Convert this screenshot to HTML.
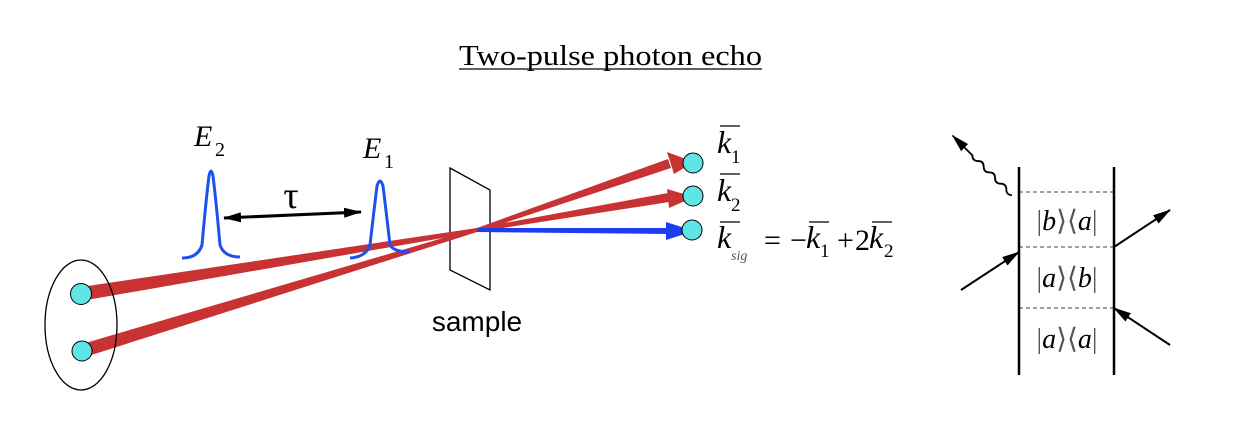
<!DOCTYPE html>
<html><head><meta charset="utf-8"><style>
html,body{margin:0;padding:0;background:#fff;}
svg{display:block;}
.s{font-family:"Liberation Serif",serif;}
.i{font-family:"Liberation Serif",serif;font-style:italic;}
</style></head><body>
<svg width="1238" height="424" viewBox="0 0 1238 424" xmlns="http://www.w3.org/2000/svg">
<defs>
<marker id="ah2" markerWidth="18" markerHeight="10" refX="17" refY="5" orient="auto-start-reverse" markerUnits="userSpaceOnUse"><path d="M0,0 L18,5 L0,10 Z" fill="#000"/></marker>
</defs>
<text x="459" y="65" textLength="303" lengthAdjust="spacingAndGlyphs" class="s" font-size="29">Two-pulse photon echo</text>
<line x1="459" y1="69" x2="762" y2="69" stroke="#000" stroke-width="1.3"/>

<!-- sample plane -->
<polygon points="450,168 490,190 490,290 450,270" fill="none" stroke="#000" stroke-width="1.3"/>
<!-- beams -->
<polygon points="81,287 81,301 477,232 477,228" fill="#c83232"/>
<polygon points="82,344 82,358 477,232 477,228" fill="#c83232"/>
<polygon points="477,228 668,159 671,168 477,232" fill="#c83232"/>
<polygon points="667,152 694,162 674,174" fill="#c83232"/>
<polygon points="477,228 668,193 669,202 477,232" fill="#c83232"/>
<polygon points="667,189 694,197 669,208" fill="#c83232"/>
<polygon points="477,228 668,228 668,234 477,232" fill="#1e3cf0"/>
<polygon points="666,222 694,231 666,240" fill="#1e3cf0"/>
<!-- sources -->
<ellipse cx="81" cy="325" rx="36" ry="65" fill="none" stroke="#000" stroke-width="1.3"/>
<circle cx="81" cy="294" r="10.5" fill="#5ee6e6" stroke="#000" stroke-width="1"/>
<circle cx="82" cy="351" r="10" fill="#5ee6e6" stroke="#000" stroke-width="1"/>
<circle cx="693" cy="163" r="10" fill="#5ee6e6" stroke="#000" stroke-width="1"/>
<circle cx="693" cy="196" r="10" fill="#5ee6e6" stroke="#000" stroke-width="1"/>
<circle cx="692" cy="230" r="10" fill="#5ee6e6" stroke="#000" stroke-width="1"/>
<!-- pulses -->
<path d="M182,258 Q198,258 202,245 Q206,200 209,176 Q211,166 213,176 Q216,200 220,245 Q224,257 240,257" fill="none" stroke="#1e50f0" stroke-width="3"/>
<path d="M350,258 Q366,257 370,245 Q374,210 377,186 Q380,176 383,186 Q386,210 390,245 Q394,252 410,252" fill="none" stroke="#1e50f0" stroke-width="3"/>
<!-- tau arrow -->
<line x1="224" y1="218" x2="361" y2="212" stroke="#000" stroke-width="3" marker-start="url(#ah2)" marker-end="url(#ah2)"/>
<text x="291" y="208" text-anchor="middle" class="s" font-size="38">τ</text>
<text x="194" y="146" class="i" font-size="30">E</text><text x="215" y="156" class="s" font-size="20">2</text>
<text x="363" y="158" class="i" font-size="30">E</text><text x="384" y="168" class="s" font-size="20">1</text>
<text x="477" y="331" text-anchor="middle" font-family="Liberation Sans,sans-serif" font-size="28">sample</text>
<!-- k labels -->
<g class="s" stroke-width="1.3">
<text x="717" y="153" class="i" font-size="32">k</text><text x="731" y="163" font-size="19">1</text><line x1="720" y1="126" x2="740" y2="126" stroke="#000"/>
<text x="717" y="201" class="i" font-size="32">k</text><text x="731" y="211" font-size="19">2</text><line x1="720" y1="174" x2="740" y2="174" stroke="#000"/>
<text x="717" y="248" class="i" font-size="32">k</text><text x="731" y="260" class="i" font-size="14" fill="#555">sig</text><line x1="720" y1="222" x2="740" y2="222" stroke="#000"/>
<text x="764" y="250" font-size="30">=</text>
<text x="790" y="250" font-size="30">−</text>
<text x="806" y="248" class="i" font-size="32">k</text><text x="820" y="257" font-size="19">1</text><line x1="809" y1="222" x2="829" y2="222" stroke="#000"/>
<text x="837" y="250" font-size="30">+</text>
<text x="855" y="250" font-size="30">2</text>
<text x="869" y="248" class="i" font-size="32">k</text><text x="884" y="257" font-size="19">2</text><line x1="872" y1="222" x2="892" y2="222" stroke="#000"/>
</g>
<!-- double-sided diagram -->
<line x1="1019" y1="167" x2="1019" y2="375" stroke="#000" stroke-width="2.5"/>
<line x1="1114" y1="167" x2="1114" y2="375" stroke="#000" stroke-width="2.5"/>
<g stroke="#000" stroke-width="0.8" stroke-dasharray="4,3">
<line x1="1019" y1="192" x2="1114" y2="192"/>
<line x1="1019" y1="247" x2="1114" y2="247"/>
<line x1="1019" y1="308" x2="1114" y2="308"/>
</g>
<g class="s" font-size="28" text-anchor="middle">
<text x="1067" y="230"><tspan fill="#555">|</tspan><tspan font-style="italic">b</tspan><tspan fill="#555">⟩⟨</tspan><tspan font-style="italic">a</tspan><tspan fill="#555">|</tspan></text>
<text x="1067" y="287"><tspan fill="#555">|</tspan><tspan font-style="italic">a</tspan><tspan fill="#555">⟩⟨</tspan><tspan font-style="italic">b</tspan><tspan fill="#555">|</tspan></text>
<text x="1067" y="348"><tspan fill="#555">|</tspan><tspan font-style="italic">a</tspan><tspan fill="#555">⟩⟨</tspan><tspan font-style="italic">a</tspan><tspan fill="#555">|</tspan></text>
</g>
<g transform="translate(1012,195) rotate(225)">
<path d="M0,0 q4,-4 8,0 q4,4 8,0 q4,-4 8,0 q4,4 8,0 q4,-4 8,0 q4,4 8,0 q4,-4 8,0 L84,0" fill="none" stroke="#000" stroke-width="1.8" marker-end="url(#ah2)"/>
</g>
<line x1="961" y1="290" x2="1019" y2="252" stroke="#000" stroke-width="2" marker-end="url(#ah2)"/>
<line x1="1114" y1="247" x2="1170" y2="210" stroke="#000" stroke-width="2" marker-end="url(#ah2)"/>
<line x1="1170" y1="345" x2="1114" y2="308" stroke="#000" stroke-width="2" marker-end="url(#ah2)"/>
</svg>
</body></html>
